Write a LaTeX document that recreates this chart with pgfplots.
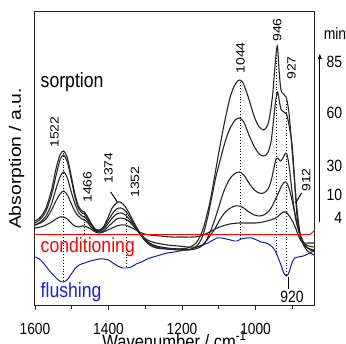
\documentclass[border=0pt]{standalone}
\usepackage{graphicx}
\usepackage{fontspec}
\setmainfont{Liberation Sans}
\usepackage{pgfplots}
\pgfplotsset{compat=1.18}
\usetikzlibrary{arrows.meta}
\definecolor{flushblue}{RGB}{25,25,175}
\definecolor{flushtext}{RGB}{30,30,215}
\newcommand{\vs}[1]{\scalebox{1}[1.17]{#1}}
\newcommand{\hs}[1]{\scalebox{1.17}[1]{#1}}
\newcommand{\fpeak}{\fontsize{12}{14}\selectfont}
\newcommand{\ftick}{\fontsize{13.8}{16}\selectfont}
\newcommand{\fbig}{\fontsize{17.7}{20}\selectfont}
\newcommand{\flab}{\fontsize{16.6}{19}\selectfont}
\newcommand{\fmin}{\fontsize{14}{16}\selectfont}
\begin{document}
\begin{tikzpicture}
\begin{axis}[
  at={(35bp,39bp)}, anchor=south west,
  scale only axis, width=279bp, height=293bp,
  x dir=reverse, xmin=841, xmax=1600, ymin=0, ymax=293,
  clip=false,
  axis line style={black!85, line width=1pt},
  ytick=\empty,
  xtick={1600,1400,1200,1000},
  xticklabels={\vs{1600},\vs{1400},\vs{1200},\vs{1000}},
  minor xtick={1500,1300,1100,900},
  xtick pos=bottom, tick align=outside,
  major tick length=5bp, minor tick length=4bp,
  tick style={black!85, line width=0.9pt},
  xticklabel style={font=\ftick, anchor=base, inner sep=0pt, yshift=-24bp},
  xlabel={\vs{Wavenumber / cm\textsuperscript{-1}}},
  xlabel style={font=\flab, at={(axis description cs:0.5,-0.1468)}, anchor=base, inner sep=0pt},
  ylabel={\hs{Absorption / a.u.}},
  ylabel style={font=\flab, at={(axis description cs:-0.0656,0.5)}, anchor=center, inner sep=0pt},
]
% flushing (blue)
\addplot[flushblue, line width=1pt, smooth] coordinates {
(1600,48) (1588,46) (1575,41) (1560,34) (1545,28) (1533,24) (1523,23) (1513,25) (1503,30) (1492,36) (1480,40) (1465,42) (1450,44) (1438,45) (1425,46) (1412,46) (1400,45) (1388,42) (1375,39) (1362,37) (1350,37) (1338,38) (1325,41) (1310,43) (1295,46) (1278,48) (1260,50) (1240,52) (1220,53) (1195,55) (1175,56) (1160,58) (1145,60) (1130,62) (1115,65) (1105,67) (1092,67) (1080,66) (1068,65) (1058,64) (1050,64) (1040,66) (1025,67) (1010,67) (997,65) (985,63) (972,62) (960,60) (952,57) (945,53) (938,47) (930,39) (923,32) (917,29) (912,30) (906,36) (900,43) (893,47) (885,48) (870,49) (858,51) (848,53) (841,55)};
% dotted guide lines
\addplot[black, dotted, line width=0.9pt] coordinates {(1522,24) (1522,154)};
\addplot[black, dotted, line width=0.9pt] coordinates {(1466,71) (1466,93)};
\addplot[black, dotted, line width=0.9pt] coordinates {(1352,38) (1352,97)};
\addplot[black, dotted, line width=0.9pt] coordinates {(1042,66) (1042,225)};
\addplot[black, dotted, line width=0.9pt] coordinates {(942,50) (942,258)};
\addplot[black, dotted, line width=0.9pt] coordinates {(917,30) (917,208)};
% sorption curves
\addplot[black!85, line width=1.1pt, smooth] coordinates {
(1600,84) (1585,88) (1570,97) (1555,115) (1543,136) (1532,150) (1522,154) (1512,147) (1502,130) (1492,112) (1482,99) (1472,94) (1466,93) (1458,89) (1448,82) (1436,76) (1425,75) (1414,78) (1402,87) (1390,97) (1378,102) (1368,103) (1356,99) (1344,92) (1330,82) (1316,73) (1302,65) (1288,60) (1270,57) (1240,56) (1210,56) (1185,57) (1168,60) (1156,65) (1141,78) (1123,105) (1105,142) (1087,178) (1069,208) (1055,221) (1044,225) (1034,222) (1020,208) (1005,190) (992,179) (978,175) (967,180) (960,192) (953,212) (948,235) (941,259) (936,235) (931,215) (924,211) (917,208) (910,195) (905,175) (900,152) (894,125) (887,88) (878,68) (868,60) (855,56) (841,53)};
\addplot[black!85, line width=1.1pt, smooth] coordinates {
(1600,82) (1585,86) (1570,94) (1555,110) (1543,129) (1532,145) (1522,150) (1512,143) (1502,127) (1492,109) (1482,97) (1472,92) (1466,91) (1458,87) (1448,81) (1436,75) (1425,74) (1414,77) (1402,84) (1390,91) (1378,96) (1366,97) (1354,94) (1342,88) (1330,80) (1316,72) (1302,65) (1288,61) (1270,58) (1240,56) (1210,55) (1185,55) (1168,57) (1155,61) (1143,70) (1130,88) (1119,108) (1108,128) (1096,145) (1083,163) (1069,177) (1055,185) (1044,187) (1032,183) (1018,170) (1003,158) (990,151) (978,149) (967,152) (958,163) (951,185) (945,205) (940,213) (935,203) (930,195) (923,193) (916,191) (909,180) (900,158) (892,115) (883,82) (875,65) (865,57) (855,53) (841,50)};
\addplot[black!85, line width=1.1pt, smooth] coordinates {
(1600,80) (1585,83) (1570,89) (1555,101) (1543,116) (1532,128) (1522,133) (1512,127) (1502,114) (1492,102) (1482,93) (1472,89) (1466,88) (1458,85) (1448,80) (1436,75) (1425,74) (1414,76) (1402,81) (1390,87) (1378,91) (1366,92) (1354,90) (1342,85) (1330,79) (1316,72) (1302,66) (1288,62) (1270,59) (1240,57) (1210,56) (1185,55) (1165,56) (1150,58) (1138,62) (1127,70) (1114,82) (1100,98) (1087,113) (1072,125) (1058,131) (1044,133) (1032,130) (1018,122) (1003,115) (990,112) (978,112) (966,116) (957,125) (950,137) (944,146) (939,147) (933,144) (927,146) (920,151) (915,151) (909,140) (904,124) (898,105) (892,88) (886,78) (880,71) (870,62) (858,57) (841,55)};
\addplot[black!85, line width=1.1pt, smooth] coordinates {
(1600,80) (1585,82) (1570,86) (1555,95) (1543,104) (1532,111) (1522,114) (1512,110) (1502,102) (1492,94) (1482,89) (1472,86) (1466,85) (1458,83) (1448,78) (1436,74) (1425,73) (1414,74) (1402,78) (1390,82) (1378,86) (1366,87) (1354,86) (1342,83) (1330,78) (1316,72) (1302,67) (1288,64) (1270,62) (1240,60) (1210,59) (1185,58) (1160,58) (1145,60) (1132,65) (1120,71) (1108,78) (1096,86) (1082,93) (1068,97) (1056,99) (1044,99) (1032,97) (1018,93) (1003,90) (990,89) (978,90) (966,93) (956,98) (948,104) (940,110) (932,117) (924,122) (917,123) (910,118) (904,110) (898,100) (892,90) (886,80) (878,70) (868,62) (856,59) (841,58)};
\addplot[black!85, line width=1.1pt, smooth] coordinates {
(1600,77) (1585,78) (1570,80) (1555,83) (1543,86) (1532,88) (1522,88) (1512,86) (1502,82) (1492,79) (1482,78) (1472,79) (1466,79) (1458,78) (1448,76) (1436,73) (1425,72) (1414,73) (1402,75) (1390,77) (1378,79) (1366,80) (1354,80) (1342,78) (1330,76) (1316,73) (1302,71) (1288,70) (1260,69) (1230,68) (1200,68) (1170,68) (1150,69) (1130,72) (1110,76) (1090,79) (1070,81) (1044,82) (1020,82) (1000,82) (980,83) (960,85) (945,87) (935,90) (925,93) (917,93) (910,90) (903,86) (897,82) (890,76) (884,70) (878,65) (868,62) (856,62) (841,62)};
% conditioning (red)
\addplot[red, line width=1pt] coordinates {(1600,70.5) (852,70.5) (841,74)};
% pointer lines
\addplot[black, line width=1pt] coordinates {(1394,113) (1376,103)};
\addplot[black, line width=1pt] coordinates {(875,112) (891,102)};
\addplot[black, line width=1.4pt] coordinates {(910,28) (910,16)};
% peak labels
\node[font=\fpeak, rotate=90, inner sep=0pt] at (axis cs:1547,173) {\hs{1522}};
\node[font=\fpeak, rotate=90, inner sep=0pt] at (axis cs:1457,118) {\hs{1466}};
\node[font=\fpeak, rotate=90, inner sep=0pt] at (axis cs:1400,137) {\hs{1374}};
\node[font=\fpeak, rotate=90, inner sep=0pt] at (axis cs:1328,123) {\hs{1352}};
\node[font=\fpeak, rotate=90, inner sep=0pt] at (axis cs:1041,247) {\hs{1044}};
\node[font=\fpeak, rotate=90, inner sep=0pt] at (axis cs:941,275) {\hs{946}};
\node[font=\fpeak, rotate=90, inner sep=0pt] at (axis cs:902,237) {\hs{927}};
\node[font=\fpeak, rotate=90, inner sep=0pt] at (axis cs:862,125) {\hs{912}};
\node[font=\fmin, inner sep=0pt] at (axis cs:901,8.3) {\vs{920}};
% curve names
\node[font=\fbig, anchor=base west, inner sep=0pt] at (axis cs:1585,217) {\vs{sorption}};
\node[font=\fbig, anchor=base west, inner sep=0pt, text=red] at (axis cs:1585,52) {\vs{conditioning}};
\node[font=\fbig, anchor=base west, inner sep=0pt, text=flushtext] at (axis cs:1585,7) {\vs{flushing}};
% time arrow
\draw[black, line width=1pt, -{Latex[length=6bp,width=4bp]}] (axis cs:825,83) -- (axis cs:825,252);
\node[font=\fmin, anchor=west, inner sep=0pt] at (axis cs:815,271) {\vs{min}};
\node[font=\fmin, anchor=east, inner sep=0pt] at (axis cs:764,243) {\vs{85}};
\node[font=\fmin, anchor=east, inner sep=0pt] at (axis cs:764,192) {\vs{60}};
\node[font=\fmin, anchor=east, inner sep=0pt] at (axis cs:764,139) {\vs{30}};
\node[font=\fmin, anchor=east, inner sep=0pt] at (axis cs:764,110) {\vs{10}};
\node[font=\fmin, anchor=east, inner sep=0pt] at (axis cs:764,87) {\vs{4}};
\end{axis}
\pgfresetboundingbox
\path[use as bounding box] (0,0) rectangle (346bp,344bp);
\end{tikzpicture}
\end{document}
